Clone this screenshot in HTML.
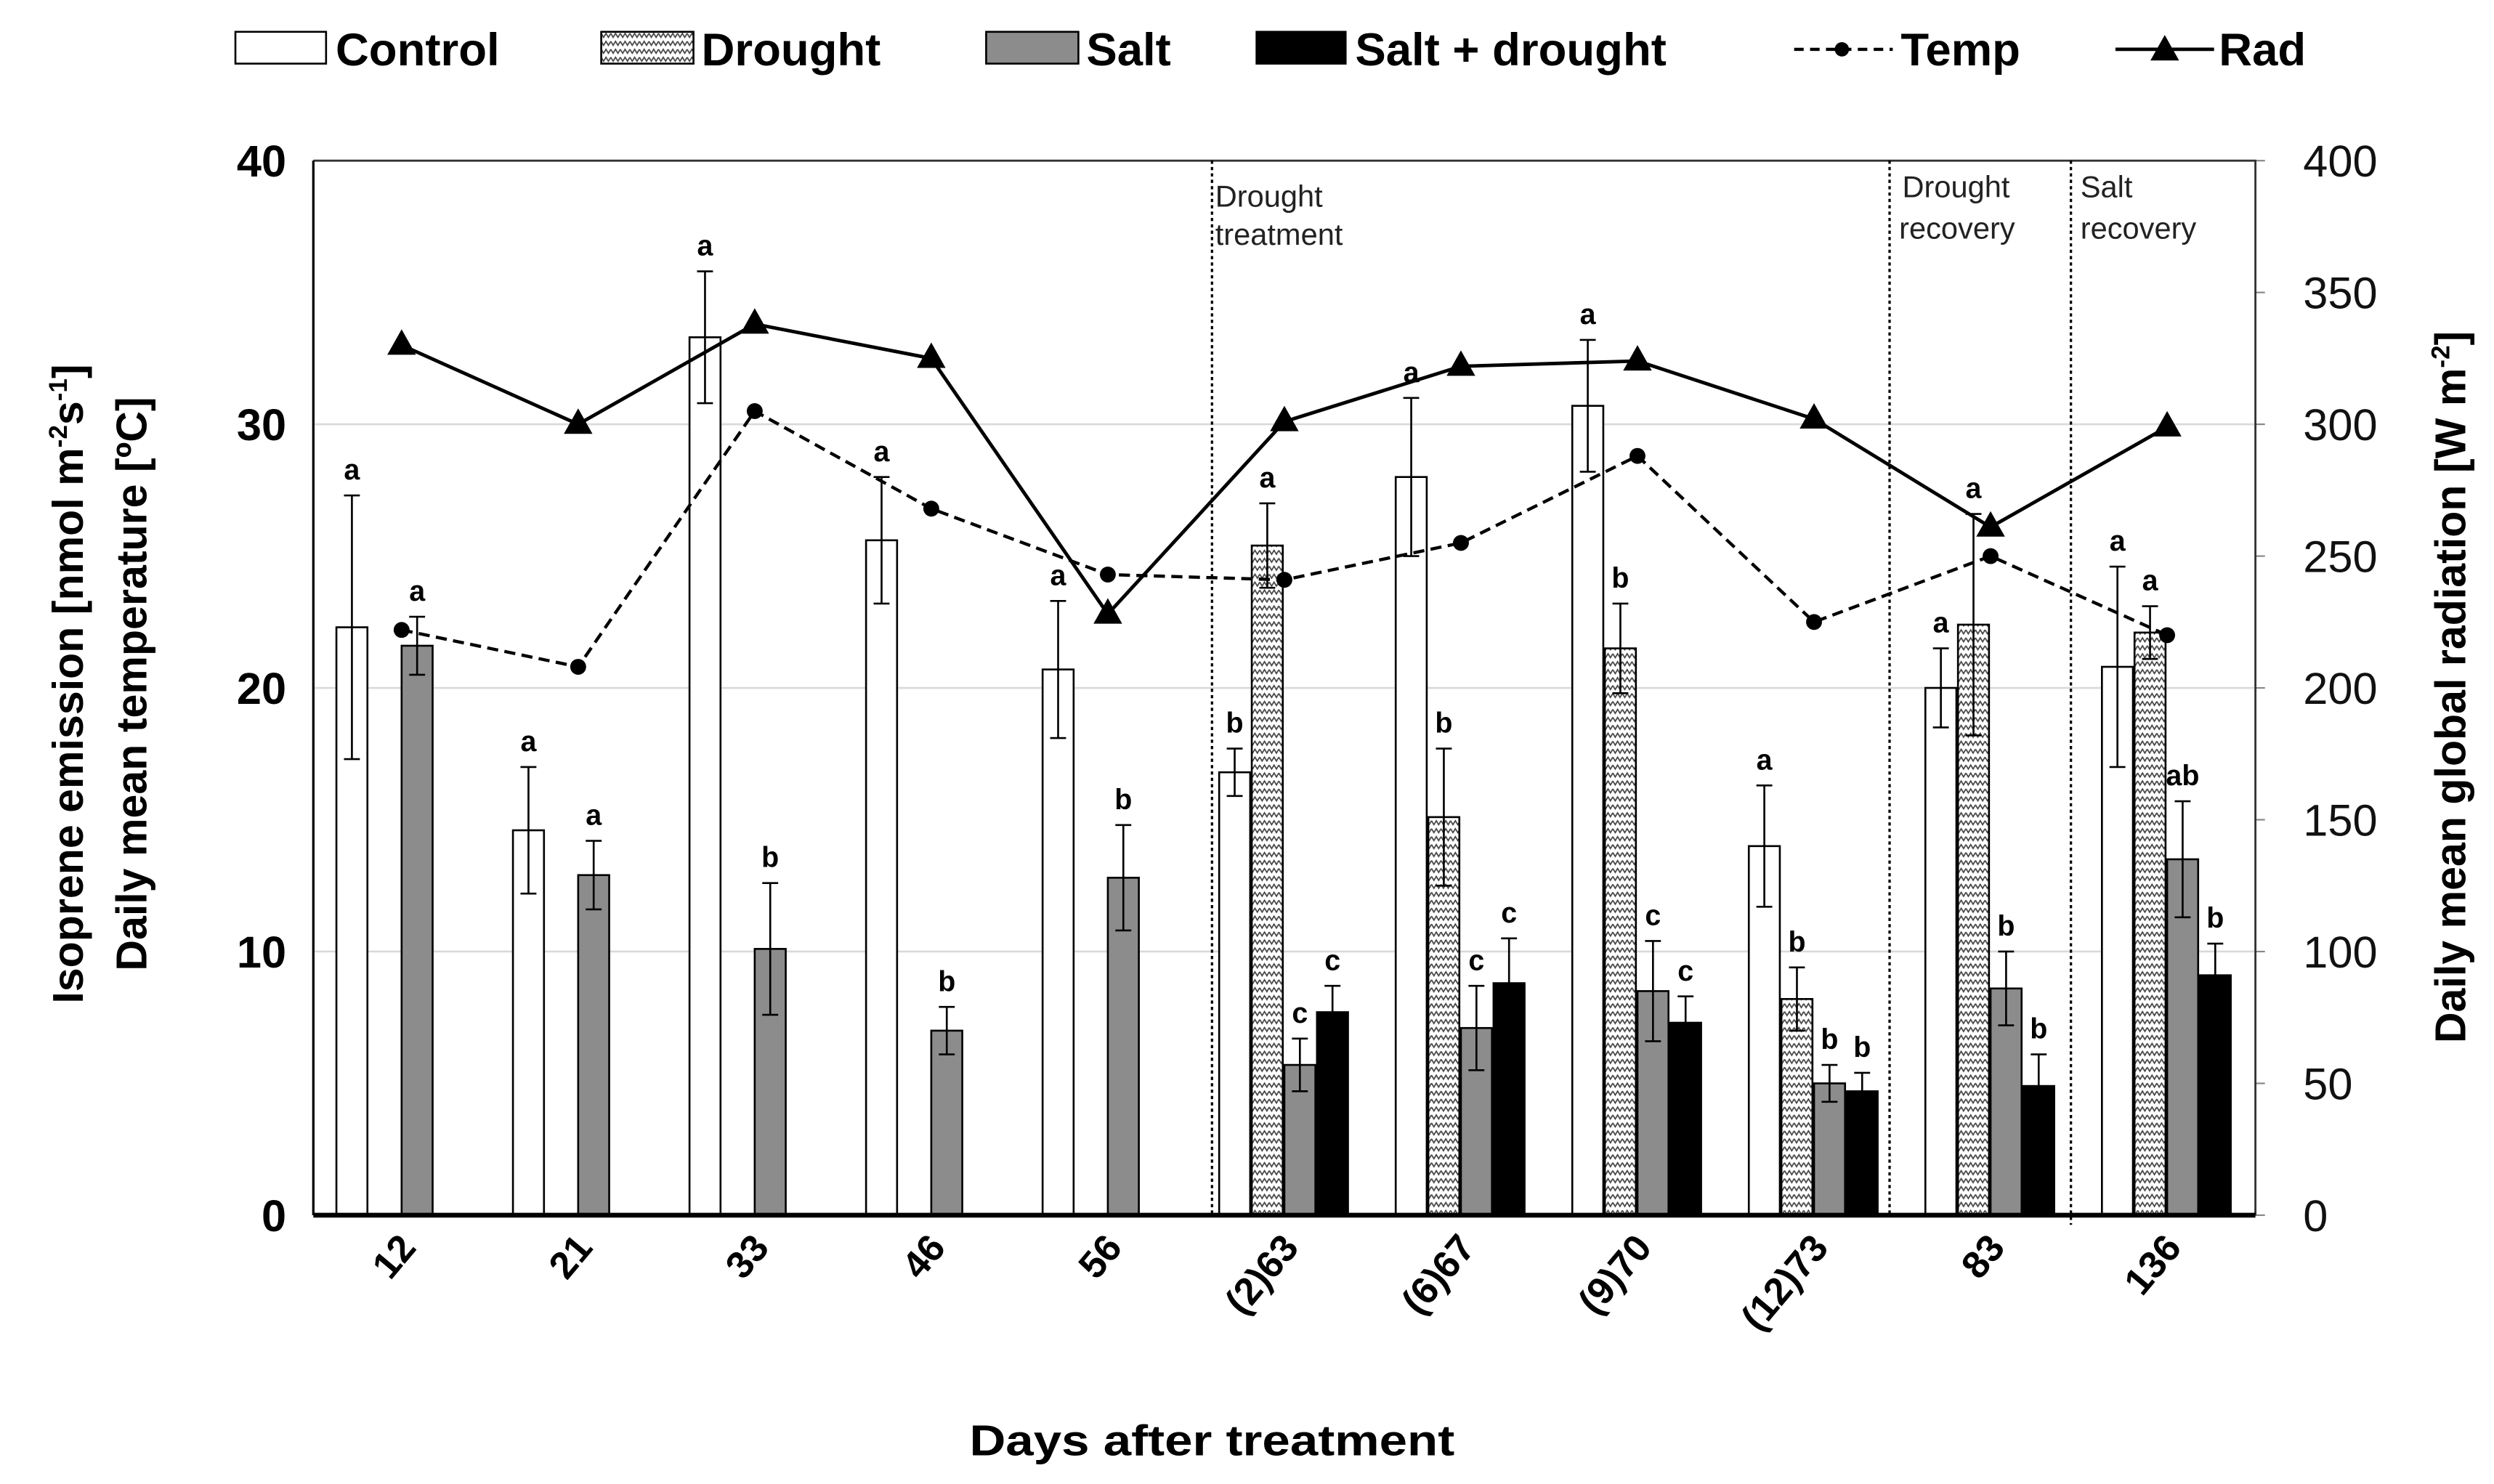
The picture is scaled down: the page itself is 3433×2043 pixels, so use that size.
<!DOCTYPE html>
<html><head><meta charset="utf-8">
<style>
html,body{margin:0;padding:0;background:#fff;}
svg{display:block;font-family:"Liberation Sans",Arial,sans-serif;}
</style></head>
<body>
<svg id="chart" width="3433" height="2043" viewBox="0 0 1568 933" preserveAspectRatio="none" xmlns="http://www.w3.org/2000/svg">
<defs>
<pattern id="zig" patternUnits="userSpaceOnUse" width="6" height="5">
<rect width="6" height="5" fill="#fff"/>
<path d="M0,1 L1.5,3.5 L3,1 L4.5,3.5 L6,1" fill="none" stroke="#444" stroke-width="0.8"/>
</pattern>
</defs>
<g id="grid"></g>
<g id="bars"></g>
<g id="lines"></g>
<g id="axes"></g>
<g id="legend">
  <rect x="148" y="20" width="57" height="20" fill="#fff" stroke="#000" stroke-width="1.2"/>
  <text x="211" y="41" font-size="29" font-weight="bold">Control</text>
  <rect x="378" y="20" width="58" height="20" fill="url(#zig)" stroke="#000" stroke-width="1.2"/>
  <text x="441" y="41" font-size="29" font-weight="bold">Drought</text>
  <rect x="620" y="20" width="58" height="20" fill="#8c8c8c" stroke="#000" stroke-width="1.2"/>
  <text x="683" y="41" font-size="29" font-weight="bold">Salt</text>
  <rect x="790" y="20" width="56" height="20" fill="#000" stroke="#000" stroke-width="1.2"/>
  <text x="852" y="41" font-size="29" font-weight="bold">Salt + drought</text>
  <line x1="1128" y1="31" x2="1190" y2="31" stroke="#000" stroke-width="2" stroke-dasharray="6,4"/>
  <circle cx="1158" cy="31" r="4.5" fill="#000"/>
  <text x="1195" y="41" font-size="29" font-weight="bold">Temp</text>
  <line x1="1330" y1="31" x2="1392" y2="31" stroke="#000" stroke-width="2.2"/>
  <path d="M1361,22 L1370,38 L1352,38 Z" fill="#000"/>
  <text x="1395" y="41" font-size="29" font-weight="bold">Rad</text>
</g>
<text transform="translate(52,430) rotate(-90)" text-anchor="middle" font-size="27" font-weight="bold">Isoprene emission [nmol m<tspan font-size="16" dy="-10">-2</tspan><tspan dy="10">s</tspan><tspan font-size="16" dy="-10">-1</tspan><tspan dy="10">]</tspan></text>
<text transform="translate(92,430) rotate(-90)" text-anchor="middle" font-size="27" font-weight="bold">Daily mean temperature [ºC]</text>
<text transform="translate(1550,432) rotate(-90)" text-anchor="middle" font-size="27" font-weight="bold">Daily mean global radiation [W m<tspan font-size="16" dy="-10">-2</tspan><tspan dy="10">]</tspan></text>
<text x="762" y="915" text-anchor="middle" font-size="27" font-weight="bold" textLength="305" lengthAdjust="spacingAndGlyphs">Days after treatment</text>
<g>
  <line x1="762" y1="101" x2="762" y2="764" stroke="#000" stroke-width="1.5" stroke-dasharray="2,2"/>
  <line x1="1188" y1="101" x2="1188" y2="764" stroke="#000" stroke-width="1.5" stroke-dasharray="2,2"/>
  <line x1="1302" y1="101" x2="1302" y2="770" stroke="#000" stroke-width="1.5" stroke-dasharray="2,2"/>
  <text font-size="19" fill="#222"><tspan x="764" y="130">Drought</tspan><tspan x="764" y="154">treatment</tspan></text>
  <text font-size="19" fill="#222"><tspan x="1196" y="124">Drought</tspan><tspan x="1194" y="150">recovery</tspan></text>
  <text font-size="19" fill="#222"><tspan x="1308" y="124">Salt</tspan><tspan x="1308" y="150">recovery</tspan></text>
</g>
<script>
const categories = ["12","21","33","46","56","(2)63","(6)67","(9)70","(12)73","83","136"];
const control = [22.3,14.6,33.3,25.6,20.7,16.8,28.0,30.7,14.0,20.0,20.8];
const controlErr = [5.0,2.4,2.5,2.4,2.6,0.9,3.0,2.5,2.3,1.5,3.8];
const controlLetters = ["a","a","a","a","a","b","a","a","a","a","a"];
const drought = [null,null,null,null,null,25.4,15.1,21.5,8.2,22.4,22.1];
const droughtErr = [0,0,0,0,0,1.6,2.6,1.7,1.2,4.2,1.0];
const droughtLetters = ["","","","","","a","b","b","b","a","a"];
const salt = [21.6,12.9,10.1,7.0,12.8,5.7,7.1,8.5,5.0,8.6,13.5];
const saltErr = [1.1,1.3,2.5,0.9,2.0,1.0,1.6,1.9,0.7,1.4,2.2];
const saltLetters = ["a","a","b","b","b","c","c","c","b","b","ab"];
const saltDrought = [null,null,null,null,null,7.7,8.8,7.3,4.7,4.9,9.1];
const saltDroughtErr = [0,0,0,0,0,1.0,1.7,1.0,0.7,1.2,1.2];
const saltDroughtLetters = ["","","","","","c","c","c","b","b","b"];
const temp = [22.2,20.8,30.5,26.8,24.3,24.1,25.5,28.8,22.5,25.0,22.0];
const rad = [330,300,338,325,228,301,322,324,302,261,299];
const leftTicks = [0,10,20,30,40];
const rightTicks = [0,50,100,150,200,250,300,350,400];

const NS="http://www.w3.org/2000/svg";
const L=197,R=1418,T=101,B=764;
const yL=v=>B-v*(B-T)/40;
const yR=v=>B-v*(B-T)/400;
const gw=(R-L)/categories.length;
const cx=i=>L+(i+0.5)*gw;
const bw=20.5;
function mk(parent,tag,attrs){const e=document.createElementNS(NS,tag);for(const k in attrs)e.setAttribute(k,attrs[k]);document.getElementById(parent).appendChild(e);return e;}

leftTicks.forEach(t=>{
  if(t>0&&t<40){const g=mk('grid','line',{x1:L,x2:R,y1:yL(t),y2:yL(t),stroke:'#d9d9d9','stroke-width':1.2});
  
  }
  const tx=mk('axes','text',{x:180,y:yL(t)+10,'text-anchor':'end','font-size':28,'font-weight':'bold'});
  tx.textContent=t;
  
  
});
rightTicks.forEach(t=>{
  const tk=mk('axes','line',{x1:R,x2:R+6,y1:yR(t),y2:yR(t),stroke:'#888','stroke-width':1});
  
  
  const tx=mk('axes','text',{x:1448,y:yR(t)+10,'font-size':28,fill:'#111'});
  tx.textContent=t;
  
  
});

const series=[
 {v:control,e:controlErr,l:controlLetters,off:-2,fill:'#fff',name:'control'},
 {v:drought,e:droughtErr,l:droughtLetters,off:-1,fill:'url(#zig)',name:'drought'},
 {v:salt,e:saltErr,l:saltLetters,off:0,fill:'#8c8c8c',name:'salt'},
 {v:saltDrought,e:saltDroughtErr,l:saltDroughtLetters,off:1,fill:'#000',name:'salt-drought'}];
series.forEach(s=>{
  s.v.forEach((v,i)=>{
    if(v===null)return;
    const x=cx(i)+s.off*bw;
    const r=mk('bars','rect',{x:x,y:yL(v),width:bw-1,height:B-yL(v),fill:s.fill,stroke:'#000','stroke-width':1.2});
    
    
    const m=x+(bw-1)/2, hi=yL(v+s.e[i]), lo=yL(v-s.e[i]);
    const eb=mk('bars','path',{d:`M${m},${hi}V${lo}M${m-5},${hi}H${m+5}M${m-5},${lo}H${m+5}`,stroke:'#000','stroke-width':1.2,fill:'none'});
    
    
    const lt=mk('bars','text',{x:m,y:hi-10,'text-anchor':'middle','font-size':18,'font-weight':'bold'});
    lt.textContent=s.l[i];
    
    
  });
});

const tp=temp.map((v,i)=>cx(i)+','+yL(v)).join(' ');
const tl=mk('lines','polyline',{points:tp,fill:'none',stroke:'#000','stroke-width':2,'stroke-dasharray':'7,4'});


temp.forEach((v,i)=>{const c=mk('lines','circle',{cx:cx(i),cy:yL(v),r:5,fill:'#000'});

});
const rp=rad.map((v,i)=>cx(i)+','+yR(v)).join(' ');
const rl=mk('lines','polyline',{points:rp,fill:'none',stroke:'#000','stroke-width':2.2});


rad.forEach((v,i)=>{const x=cx(i),y=yR(v);const p=mk('lines','path',{d:`M${x},${y-10}L${x+9},${y+6}L${x-9},${y+6}Z`,fill:'#000'});

});

const ax=mk('axes','path',{d:`M${L},${T}H${R}V${B}`,fill:'none',stroke:'#333','stroke-width':1.3});


const la=mk('axes','line',{x1:L,x2:L,y1:T,y2:B,stroke:'#000','stroke-width':1.5});


const xa=mk('axes','line',{x1:L,x2:R,y1:B,y2:B,stroke:'#000','stroke-width':3});


categories.forEach((c,i)=>{
  const t=mk('axes','text',{transform:`translate(${cx(i)+10},${785}) rotate(-50)`,'text-anchor':'end','font-size':24,'font-weight':'bold'});
  t.textContent=c;
  
  
});
</script>
</svg>
</body></html>
